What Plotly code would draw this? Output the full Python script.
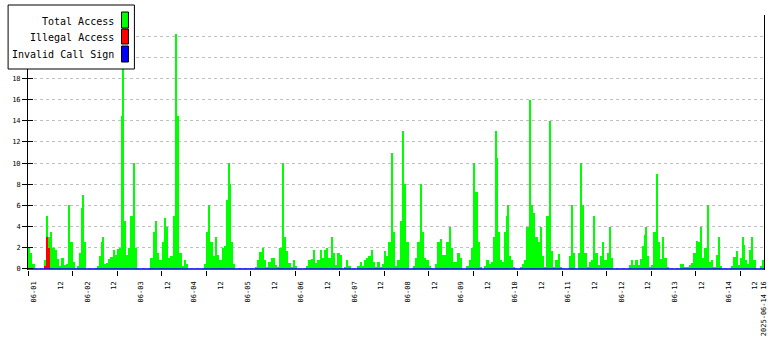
import plotly.graph_objects as go
import pandas as pd

# ---------------- data ----------------
start_time = "2025-05-31 21:19"   # start of first hourly bin
bin_hours = 1

total_access = [
    2, 1.5, 0.5, 0, 0, 0, 0, 0.8, 4.5, 3,
    3.5, 2, 1.8, 0.9, 0.3, 1, 0.4, 0.5, 5, 2.5,
    0.7, 0, 0.3, 1.5, 5.8, 2.5, 0, 0, 0, 0,
    0, 0.3, 1.2, 2.5, 0.5, 0.6, 0.9, 1.1, 1.8, 1.3,
    1.9, 2, 14.5, 4.5, 1.3, 2, 5, 8.5, 2, 0,
    0, 0, 0, 0, 0, 1, 3.5, 4.5, 1.5, 0.8,
    2.5, 4.8, 4, 1, 1.2, 5, 18.5, 14.5, 1.5, 0.3,
    0.8, 0.5, 0, 0, 0, 0, 0, 0, 0, 0.5,
    3.5, 5, 2.5, 1.2, 2.5, 1.3, 0.8, 2, 2.2, 6.5,
    8, 2.5, 0.5, 0, 0, 0, 0, 0, 0, 0,
    0, 0, 0.2, 0.8, 1.6, 2, 0.8, 0.2, 0.7, 1,
    1, 0.4, 0.2, 2, 7.7, 3, 1.7, 0.6, 0.1, 0.8,
    0.3, 0, 0, 0, 0, 0.3, 0.8, 0.9, 1.8, 0.6,
    0.8, 1.8, 1, 1.8, 2, 1, 2.5, 1.5, 0.4, 1.5,
    1.3, 0, 0.2, 0.8, 0.3, 0, 0, 0, 0.3, 0.7,
    0.3, 0.8, 1, 1.2, 1.8, 0.7, 0.2, 0.7, 0.2, 0.5,
    1.7, 1.2, 2.5, 9, 3.5, 0.3, 0.8, 4.5, 11, 8,
    2.5, 0, 0, 0.3, 1, 2.5, 6.5, 3.5, 1, 0.8,
    0.3, 0, 0, 0.5, 2.5, 2.8, 1.3, 1.3, 2.5, 3.5,
    2, 0.7, 0.7, 1.5, 1, 0, 0, 0.3, 0.8, 2,
    9, 7.3, 2.5, 0.2, 0, 0.3, 0.8, 0.5, 0.7, 3,
    10.5, 3.5, 0.8, 0.7, 3.5, 5, 1.2, 0.8, 0.1, 0,
    0, 0.1, 0.5, 0.8, 4, 12, 6, 5.3, 3, 2.5,
    3.2, 1.2, 0.2, 5, 10.5, 1.7, 0.2, 0.8, 1.4, 0.2,
    0, 0, 0, 1.2, 4, 1.5, 0, 1.5, 8.5, 6,
    1.5, 0.1, 0.7, 0.8, 3.7, 1.5, 0.4, 1.2, 2.5, 0.8,
    1.5, 3.5, 1, 0, 0, 0, 0, 0, 0, 0,
    0.4, 0.8, 0.4, 0.8, 0.4, 0.9, 2.2, 3.2, 1.2, 0.2,
    0.4, 3.5, 7.7, 2.5, 0.9, 2.5, 1, 0.2, 0, 0,
    0, 0, 0, 0.5, 0.5, 0.1, 0.1, 0.4, 0.6, 1.5,
    2.6, 2.5, 3.3, 1, 2, 5, 0.7, 0.8, 0.1, 1.3,
    2.2, 0.3, 0, 0, 0, 0, 0.3, 1.1, 1.7, 0.4,
    1, 2.3, 0.8, 0.5, 1.8, 2.6, 0.8, 0, 0, 0.3,
    0.8,
]

# short-lived maxima inside a bin (bin index -> peak value)
total_peaks = {8: 5, 18: 6, 24: 7, 33: 3, 42: 20.3, 47: 10, 66: 22.2, 81: 6,
               84: 3, 90: 10, 114: 10, 136: 3, 163: 11, 168: 13, 176: 8,
               189: 4, 200: 10, 210: 13, 215: 6, 225: 16, 230: 4, 234: 14,
               244: 6, 248: 10, 254: 5, 261: 4, 277: 4, 282: 9, 285: 3,
               302: 4, 305: 6, 310: 3, 321: 3, 325: 3}

illegal_access = {7: 0.3, 8: 2.5, 9: 2.0}   # all other bins are 0
illegal_peaks = {8: 3}

invalid_call_sign = [0] * len(total_access)

series_names = ["Total Access", "Illegal Access", "Invalid Call Sign"]
series_colors = ["#00ff00", "#ff0000", "#0000ff"]

y_ticks = [0, 2, 4, 6, 8, 10, 12, 14, 16, 18, 20, 22, 24]
y_labels = ["0", "2", "4", "6", "8", "10", "12", "14", "16", "18", "", "", ""]  # upper ones hidden by legend

end_label_time = "2025-06-14 16:00"
end_label_text = "2025-06-14 16"

# ---------------- derived ----------------
t0 = pd.Timestamp(start_time)
hour = pd.Timedelta(hours=bin_hours)
times = [t0 + i * hour for i in range(len(total_access))]
x_end = t0 + pd.Timedelta(hours=330.75)
bin_ms = bin_hours * 3600 * 1000

fig = go.Figure()

fig.add_trace(go.Bar(x=times, y=total_access, width=bin_ms, offset=0,
                     marker=dict(color=series_colors[0], line=dict(width=0)),
                     hoverinfo="skip"))
pk_idx = list(total_peaks.keys())
fig.add_trace(go.Bar(x=[times[i] for i in pk_idx], y=[total_peaks[i] for i in pk_idx],
                     width=bin_ms * 0.45, offset=bin_ms * 0.3,
                     marker=dict(color=series_colors[0], line=dict(width=0)),
                     hoverinfo="skip"))
il_idx = list(illegal_access.keys())
fig.add_trace(go.Bar(x=[times[i] for i in il_idx], y=[illegal_access[i] for i in il_idx],
                     width=bin_ms, offset=0,
                     marker=dict(color=series_colors[1], line=dict(width=0)),
                     hoverinfo="skip"))
ip_idx = list(illegal_peaks.keys())
fig.add_trace(go.Bar(x=[times[i] for i in ip_idx], y=[illegal_peaks[i] for i in ip_idx],
                     width=bin_ms * 0.45, offset=bin_ms * 0.3,
                     marker=dict(color=series_colors[1], line=dict(width=0)),
                     hoverinfo="skip"))
fig.add_trace(go.Scatter(x=times + [x_end], y=invalid_call_sign + [0], mode="lines",
                         line=dict(color=series_colors[2], width=1.5), hoverinfo="skip"))
# dummy trace to activate overlay axes (tick marks)
fig.add_trace(go.Scatter(x=[times[0]], y=[0], xaxis="x2", yaxis="y2", mode="markers",
                         marker=dict(opacity=0), hoverinfo="skip"))

# x tick labels every 12 h
tickvals, ticktext = [], []
d = pd.Timestamp("2025-06-01 00:00")
end_lab = pd.Timestamp(end_label_time)
while d < end_lab:
    tickvals.append(d)
    ticktext.append(d.strftime("%m-%d") if d.hour == 0 else d.strftime("%H"))
    d += pd.Timedelta(hours=12)
tickvals.append(end_lab)
ticktext.append(end_label_text)

major_marks = [t0 + pd.Timedelta(hours=20 * k) for k in range(17)]

y_range = [-0.1, 24]
mono = "DejaVu Sans Mono"
fig.update_layout(
    width=780, height=350,
    margin=dict(l=25, r=15, t=15, b=80),
    plot_bgcolor="white", paper_bgcolor="white",
    showlegend=False, barmode="overlay", bargap=0,
    font=dict(family=mono, size=7, color="black"),
    xaxis=dict(type="date", range=[t0, x_end], tickmode="array",
               tickvals=tickvals, ticktext=ticktext, tickangle=-90,
               ticks="", showgrid=False, showline=False, zeroline=False,
               tickfont=dict(family=mono, size=7, color="black"),
               ticklabelstandoff=9, ticklabeloverflow="allow"),
    xaxis2=dict(type="date", range=[t0, x_end], overlaying="x", anchor="y", side="bottom",
                tickmode="array", tickvals=major_marks, ticks="outside", ticklen=5,
                tickcolor="black", tickwidth=1, showticklabels=False,
                showgrid=False, showline=False, zeroline=False),
    yaxis=dict(range=y_range, tickmode="array", tickvals=y_ticks, ticktext=y_labels,
               ticks="outside", ticklen=5,
               tickcolor="black", showline=True, linecolor="black", linewidth=1,
               mirror=True, showgrid=True, gridcolor="#c0c0c0", griddash="3px,3px",
               gridwidth=1, zeroline=False,
               tickfont=dict(family=mono, size=7, color="black")),
    yaxis2=dict(range=y_range, tickmode="array", tickvals=y_ticks, overlaying="y",
                anchor="x", side="left",
                ticks="inside", ticklen=5, tickcolor="black", showticklabels=False,
                showgrid=False, showline=False, zeroline=False),
)

# ---------------- legend box (drawn) ----------------
PL, PT, PW, PH = 25, 15, 740, 255


def px(xp):
    return (xp - PL) / PW


def py(yp):
    return (PT + PH - yp) / PH


shapes = [dict(type="rect", xref="paper", yref="paper", x0=px(5), x1=px(132),
               y0=py(69), y1=py(5), fillcolor="white",
               line=dict(color="black", width=1), layer="above")]
annots = []
rows = [(12, 28, 21), (29, 44, 37.5), (46, 62, 54)]
for (ya, yb, yc), name, col in zip(rows, series_names, series_colors):
    shapes.append(dict(type="rect", xref="paper", yref="paper", x0=px(119), x1=px(126),
                       y0=py(yb), y1=py(ya), fillcolor=col,
                       line=dict(color="black", width=1), layer="above"))
    annots.append(dict(text=name, xref="paper", yref="paper", x=px(113), y=py(yc),
                       xanchor="right", yanchor="middle", showarrow=False,
                       font=dict(family=mono, size=10, color="black")))
fig.update_layout(shapes=shapes, annotations=annots)

fig.write_html("out.html")
